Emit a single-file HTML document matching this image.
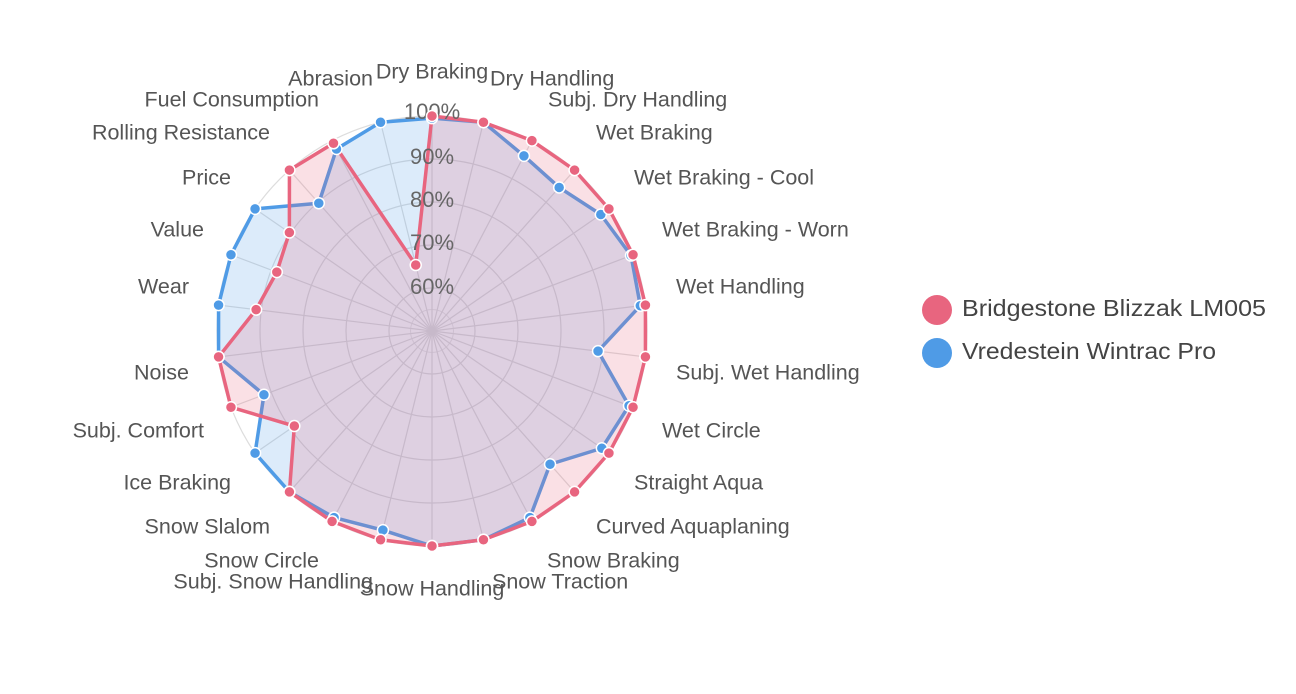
<!DOCTYPE html>
<html><head><meta charset="utf-8"><style>
html,body{margin:0;padding:0;background:#fff;}
svg{display:block;font-family:"Liberation Sans",sans-serif;}
.l{font-size:21.5px;fill:#555;dominant-baseline:middle;}
.t{font-size:22px;fill:#666;text-anchor:middle;dominant-baseline:middle;}
</style></head><body>
<svg id="s" width="1296" height="694" viewBox="0 0 1296 694">
<g id="grid"></g>
<g id="series"></g>
<g>
<text class="t" x="432" y="288">60%</text>
<text class="t" x="432" y="244">70%</text>
<text class="t" x="432" y="201">80%</text>
<text class="t" x="432" y="158">90%</text>
<text class="t" x="432" y="113">100%</text>
</g>
<g id="dots"></g>
<g>
<text class="l" x="432" y="73" text-anchor="middle">Dry Braking</text>
<text class="l" x="490" y="80">Dry Handling</text>
<text class="l" x="548" y="101">Subj. Dry Handling</text>
<text class="l" x="596" y="134">Wet Braking</text>
<text class="l" x="634" y="179">Wet Braking - Cool</text>
<text class="l" x="662" y="231">Wet Braking - Worn</text>
<text class="l" x="676" y="288">Wet Handling</text>
<text class="l" x="676" y="374">Subj. Wet Handling</text>
<text class="l" x="662" y="432">Wet Circle</text>
<text class="l" x="634" y="484">Straight Aqua</text>
<text class="l" x="596" y="528">Curved Aquaplaning</text>
<text class="l" x="547" y="562">Snow Braking</text>
<text class="l" x="492" y="583">Snow Traction</text>
<text class="l" x="432" y="590" text-anchor="middle">Snow Handling</text>
<text class="l" x="373" y="583" text-anchor="end">Subj. Snow Handling</text>
<text class="l" x="319" y="562" text-anchor="end">Snow Circle</text>
<text class="l" x="270" y="528" text-anchor="end">Snow Slalom</text>
<text class="l" x="231" y="484" text-anchor="end">Ice Braking</text>
<text class="l" x="204" y="432" text-anchor="end">Subj. Comfort</text>
<text class="l" x="189" y="374" text-anchor="end">Noise</text>
<text class="l" x="189" y="288" text-anchor="end">Wear</text>
<text class="l" x="204" y="231" text-anchor="end">Value</text>
<text class="l" x="231" y="179" text-anchor="end">Price</text>
<text class="l" x="270" y="134" text-anchor="end">Rolling Resistance</text>
<text class="l" x="319" y="101" text-anchor="end">Fuel Consumption</text>
<text class="l" x="373" y="80" text-anchor="end">Abrasion</text>
</g>
<circle cx="937" cy="310" r="15" fill="#e8657f"/>
<text x="962" y="310" class="l" style="font-size:23px;fill:#444" textLength="304" lengthAdjust="spacingAndGlyphs">Bridgestone Blizzak LM005</text>
<circle cx="937" cy="353" r="15" fill="#4f9be6"/>
<text x="962" y="353" class="l" style="font-size:23px;fill:#444" textLength="254" lengthAdjust="spacingAndGlyphs">Vredestein Wintrac Pro</text>
</svg>
<script>
var cx=432,cy=331,N=26,ns="http://www.w3.org/2000/svg";
function R(v){return (v-50)*4.3;}
function P(i,v){var a=i*2*Math.PI/N,r=R(v);return [cx+r*Math.sin(a),cy-r*Math.cos(a)];}
function el(t,at,p){var e=document.createElementNS(ns,t);for(var k in at)e.setAttribute(k,at[k]);document.getElementById(p).appendChild(e);return e;}
for(var k=60;k<=100;k+=10)el("circle",{cx:cx,cy:cy,r:R(k),fill:"none",stroke:"#ddd","stroke-width":1.2},"grid");
el("circle",{cx:cx,cy:cy,r:R(55),fill:"none",stroke:"#e6e6e6","stroke-width":1},"grid");
for(var i=0;i<N;i++){var p=P(i,100);el("line",{x1:cx,y1:cy,x2:p[0],y2:p[1],stroke:"#ddd","stroke-width":1.2},"grid");}
var red=[100,100,100,100,100,100,100,100,100,100,100,100,100,100,100,100,100,88.9,100,100,91.2,88.6,90.3,100,99.3,65.8];
var blue=[99.5,100,96,94.6,97.7,99.5,98.8,88.9,99,98,91.4,99,100,100,97.7,99,100,100,91.8,100,100,100,100,89.7,97.8,100];
function ser(d,c,f){var pts=d.map(function(v,i){return P(i,v).join(",");}).join(" ");
el("polygon",{points:pts,fill:f,stroke:c,"stroke-width":3.5,"stroke-linejoin":"round"},"series");
d.forEach(function(v,i){var p=P(i,v);el("circle",{cx:p[0],cy:p[1],r:5.5,fill:c,stroke:"#fff","stroke-width":1.5},"dots");});}
ser(blue,"#4f9be6","rgba(79,155,230,0.2)");
ser(red,"#e8657f","rgba(232,101,127,0.2)");
</script>
</body></html>
